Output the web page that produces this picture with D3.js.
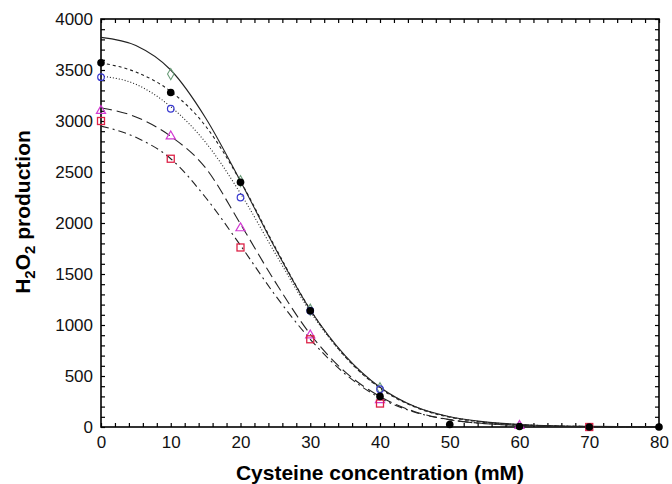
<!DOCTYPE html>
<html>
<head>
<meta charset="utf-8">
<script src="https://cdn.jsdelivr.net/npm/d3@7"></script>
<style>
  body { margin: 0; background: #fff; }
  text { font-family: "Liberation Sans", Arial, sans-serif; }
</style>
</head>
<body>
<div id="chart"></div>
<script>
var svgWidth = 672;
var svgHeight = 484;

var margin = { top: 19, right: 13, bottom: 57, left: 101 };
var width = svgWidth - margin.left - margin.right;
var height = svgHeight - margin.top - margin.bottom;

// fitted curves, every 5 mM
var curveX = [0, 5, 10, 15, 20, 25, 30, 35, 40, 45, 50, 55, 60, 65, 70, 75, 80];
var curveSolid   = [3820, 3740, 3500, 3030, 2410, 1750, 1150, 700, 390, 200, 100, 50, 25, 12, 6, 3, 1];
var curveShort   = [3570, 3480, 3290, 2950, 2410, 1760, 1150, 690, 380, 195, 95, 45, 22, 10, 5, 2, 1];
var curveDotted  = [3440, 3360, 3140, 2790, 2290, 1700, 1130, 690, 385, 200, 100, 48, 23, 11, 5, 2, 1];
var curveLong    = [3130, 3040, 2850, 2540, 1990, 1420, 910, 540, 300, 150, 72, 34, 16, 7, 3, 1, 0];
var curveDashDot = [2950, 2840, 2630, 2250, 1780, 1290, 860, 520, 285, 145, 70, 33, 15, 7, 3, 1, 0];

// measured points
var diamondX = [10, 20, 30, 40];
var diamondY = [3460, 2410, 1150, 380];
var dotX = [0, 10, 20, 30, 40, 50, 60, 70, 80];
var dotY = [3570, 3280, 2400, 1140, 300, 25, 5, 0, 0];
var circleX = [0, 10, 20, 30, 40];
var circleY = [3430, 3120, 2250, 1140, 370];
var triX = [0, 10, 20, 30, 40, 60];
var triY = [3100, 2850, 1950, 900, 265, 12];
var squareX = [0, 10, 20, 30, 40, 70];
var squareY = [3000, 2630, 1760, 860, 230, 0];

var xTicks = [0, 10, 20, 30, 40, 50, 60, 70, 80];
var yTicks = [0, 500, 1000, 1500, 2000, 2500, 3000, 3500, 4000];

var svg = d3.select("#chart")
  .append("svg")
  .attr("width", svgWidth)
  .attr("height", svgHeight);

var chartGroup = svg.append("g")
  .attr("transform", `translate(${margin.left}, ${margin.top})`);

var xScale = d3.scaleLinear().domain([0, 80]).range([0, width]);
var yScale = d3.scaleLinear().domain([0, 4000]).range([height, 0]);

var xMinor = d3.range(0, 81, 2);
var yMinor = d3.range(0, 4001, 100);

// inward ticks on all four sides
chartGroup.append("g")
  .attr("transform", `translate(0, ${height})`)
  .call(d3.axisTop(xScale).tickValues(xMinor).tickSize(4).tickFormat(""));
chartGroup.append("g")
  .call(d3.axisBottom(xScale).tickValues(xMinor).tickSize(4).tickFormat(""));
chartGroup.append("g")
  .call(d3.axisRight(yScale).tickValues(yMinor).tickSize(4).tickFormat(""));
chartGroup.append("g")
  .attr("transform", `translate(${width}, 0)`)
  .call(d3.axisLeft(yScale).tickValues(yMinor).tickSize(4).tickFormat(""));

chartGroup.selectAll(".domain").remove();
chartGroup.selectAll(".tick line").attr("stroke", "#000").attr("stroke-width", 1.2);

// labels
var bottomAxis = chartGroup.append("g")
  .attr("transform", `translate(0, ${height})`)
  .call(d3.axisBottom(xScale).tickValues(xTicks).tickSize(0).tickPadding(9).tickFormat(d3.format("d")));
var leftAxis = chartGroup.append("g")
  .call(d3.axisLeft(yScale).tickValues(yTicks).tickSize(0).tickPadding(8).tickFormat(d3.format("d")));
[bottomAxis, leftAxis].forEach(function(a) {
  a.select(".domain").remove();
  a.selectAll("text").attr("font-size", 17).attr("fill", "#111")
    .attr("font-family", "'Liberation Sans', Arial, sans-serif");
});

chartGroup.append("rect")
  .attr("width", width)
  .attr("height", height)
  .attr("fill", "none")
  .attr("stroke", "#000")
  .attr("stroke-width", 1.6);

var curves = [
  { y: curveSolid, dash: null },
  { y: curveShort, dash: "3,3" },
  { y: curveDotted, dash: "1,2" },
  { y: curveLong, dash: "11,5" },
  { y: curveDashDot, dash: "8,4,2,4" }
];

var line = d3.line()
  .x(function(d, i) { return xScale(curveX[i]); })
  .y(function(d) { return yScale(d); })
  .curve(d3.curveMonotoneX);

curves.forEach(function(c) {
  chartGroup.append("path")
    .datum(c.y)
    .attr("fill", "none")
    .attr("stroke", "#222")
    .attr("stroke-width", 1.1)
    .attr("stroke-dasharray", c.dash)
    .attr("d", line);
});

function pairs(xs, ys) { return xs.map(function(x, i) { return [x, ys[i]]; }); }

chartGroup.selectAll(".diamond").data(pairs(diamondX, diamondY)).enter()
  .append("path")
  .attr("d", d3.symbol(d3.symbolDiamond, 36))
  .attr("transform", d => `translate(${xScale(d[0])}, ${yScale(d[1])})`)
  .attr("fill", "none").attr("stroke", "#6a9c78").attr("stroke-width", 1.1);

chartGroup.selectAll(".tri").data(pairs(triX, triY)).enter()
  .append("path")
  .attr("d", d3.symbol(d3.symbolTriangle, 36))
  .attr("transform", d => `translate(${xScale(d[0])}, ${yScale(d[1])})`)
  .attr("fill", "none").attr("stroke", "#d23ad2").attr("stroke-width", 1.2);

chartGroup.selectAll(".sq").data(pairs(squareX, squareY)).enter()
  .append("rect")
  .attr("x", d => xScale(d[0]) - 3.5)
  .attr("y", d => yScale(d[1]) - 3.5)
  .attr("width", 7).attr("height", 7)
  .attr("fill", "none").attr("stroke", "#dd2247").attr("stroke-width", 1.3);

chartGroup.selectAll(".circ").data(pairs(circleX, circleY)).enter()
  .append("circle")
  .attr("cx", d => xScale(d[0]))
  .attr("cy", d => yScale(d[1]))
  .attr("r", 3.3)
  .attr("fill", "none").attr("stroke", "#3a3ad0").attr("stroke-width", 1.2);

chartGroup.selectAll(".dot").data(pairs(dotX, dotY)).enter()
  .append("circle")
  .attr("cx", d => xScale(d[0]))
  .attr("cy", d => yScale(d[1]))
  .attr("r", 3.8)
  .attr("fill", "#000");

// axis titles
chartGroup.append("text")
  .attr("x", width / 2)
  .attr("y", height + 53)
  .attr("text-anchor", "middle")
  .attr("font-size", 21)
  .attr("font-weight", "bold")
  .text("Cysteine concentration (mM)");

var yTitle = chartGroup.append("text")
  .attr("transform", `translate(${-71}, ${193}) rotate(-90)`)
  .attr("text-anchor", "middle")
  .attr("font-size", 21)
  .attr("font-weight", "bold");
yTitle.append("tspan").text("H");
yTitle.append("tspan").attr("font-size", 15).attr("dy", 5).text("2");
yTitle.append("tspan").attr("dy", -5).text("O");
yTitle.append("tspan").attr("font-size", 15).attr("dy", 5).text("2");
yTitle.append("tspan").attr("dy", -5).text(" production");
</script>
</body>
</html>
